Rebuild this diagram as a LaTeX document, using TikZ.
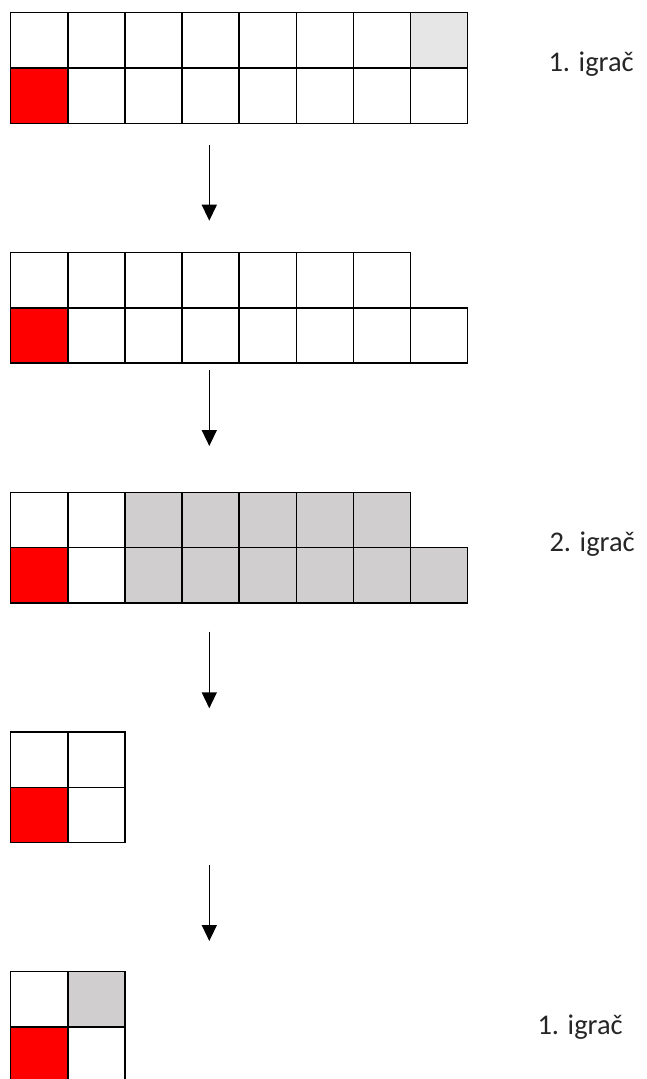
\documentclass[tikz,border=0pt]{standalone}
\usepackage{fontspec}
\setmainfont{Carlito}
\usetikzlibrary{arrows.meta,positioning}
\definecolor{redcell}{RGB}{255,0,0}
\definecolor{lightcell}{RGB}{231,230,230}
\definecolor{graycell}{RGB}{208,206,206}

\begin{document}
\begin{tikzpicture}[x=1pt,y=-1pt,
    cell/.style={draw,line width=1.4pt,minimum width=57.1pt,minimum height=55.3pt,
                 inner sep=0pt,outer sep=0pt,fill=white},
    move/.style={-{Triangle[width=15pt,length=16pt]},line width=1.5pt},
    player/.style={anchor=base west,font=\fontsize{28.5}{34}\selectfont,text=black!85}]
  \useasboundingbox (0,0) rectangle (647,1079);
  % first board
  \foreach \c/\f in {1/white,2/white,3/white,4/white,5/white,6/white,7/white,8/lightcell}
    \node[cell,fill=\f] (a-1-\c) at ({10.7+(\c-0.5)*57.1},40.35) {};
  \foreach \c/\f in {1/redcell,2/white,3/white,4/white,5/white,6/white,7/white,8/white}
    \node[cell,fill=\f] (a-2-\c) at ({10.7+(\c-0.5)*57.1},95.65) {};
  \node[player] (p1) at (545,71.7) {1. igrač};
  % second board
  \foreach \c in {1,...,7}
    \node[cell] (b-1-\c) at ({10.7+(\c-0.5)*57.1},280.15) {};
  \foreach \c/\f in {1/redcell,2/white,3/white,4/white,5/white,6/white,7/white,8/white}
    \node[cell,fill=\f] (b-2-\c) at ({10.7+(\c-0.5)*57.1},335.45) {};
  % third board
  \foreach \c/\f in {1/white,2/white,3/graycell,4/graycell,5/graycell,6/graycell,7/graycell}
    \node[cell,fill=\f] (c-1-\c) at ({10.7+(\c-0.5)*57.1},519.85) {};
  \foreach \c/\f in {1/redcell,2/white,3/graycell,4/graycell,5/graycell,6/graycell,7/graycell,8/graycell}
    \node[cell,fill=\f] (c-2-\c) at ({10.7+(\c-0.5)*57.1},575.15) {};
  \node[player] (p2) at (546,551) {2. igrač};
  % fourth board
  \foreach \c in {1,2}
    \node[cell] (d-1-\c) at ({10.7+(\c-0.5)*57.1},759.65) {};
  \foreach \c/\f in {1/redcell,2/white}
    \node[cell,fill=\f] (d-2-\c) at ({10.7+(\c-0.5)*57.1},814.95) {};
  % fifth board
  \foreach \c/\f in {1/white,2/graycell}
    \node[cell,fill=\f] (e-1-\c) at ({10.7+(\c-0.5)*57.1},999.35) {};
  \foreach \c/\f in {1/redcell,2/white}
    \node[cell,fill=\f] (e-2-\c) at ({10.7+(\c-0.5)*57.1},1054.65) {};
  \node[player] (p3) at (534,1034) {1. igrač};
  % moves
  \coordinate (s1) at (209.3,145);   \coordinate (t1) at (209.3,220.7);
  \coordinate (s2) at (209.3,370);   \coordinate (t2) at (209.3,446);
  \coordinate (s3) at (209.3,631.7); \coordinate (t3) at (209.3,708.3);
  \coordinate (s4) at (209.3,865);   \coordinate (t4) at (209.3,941);
  \foreach \i in {1,...,4}
    \draw[move] (s\i) -- (t\i);
\end{tikzpicture}
\end{document}
